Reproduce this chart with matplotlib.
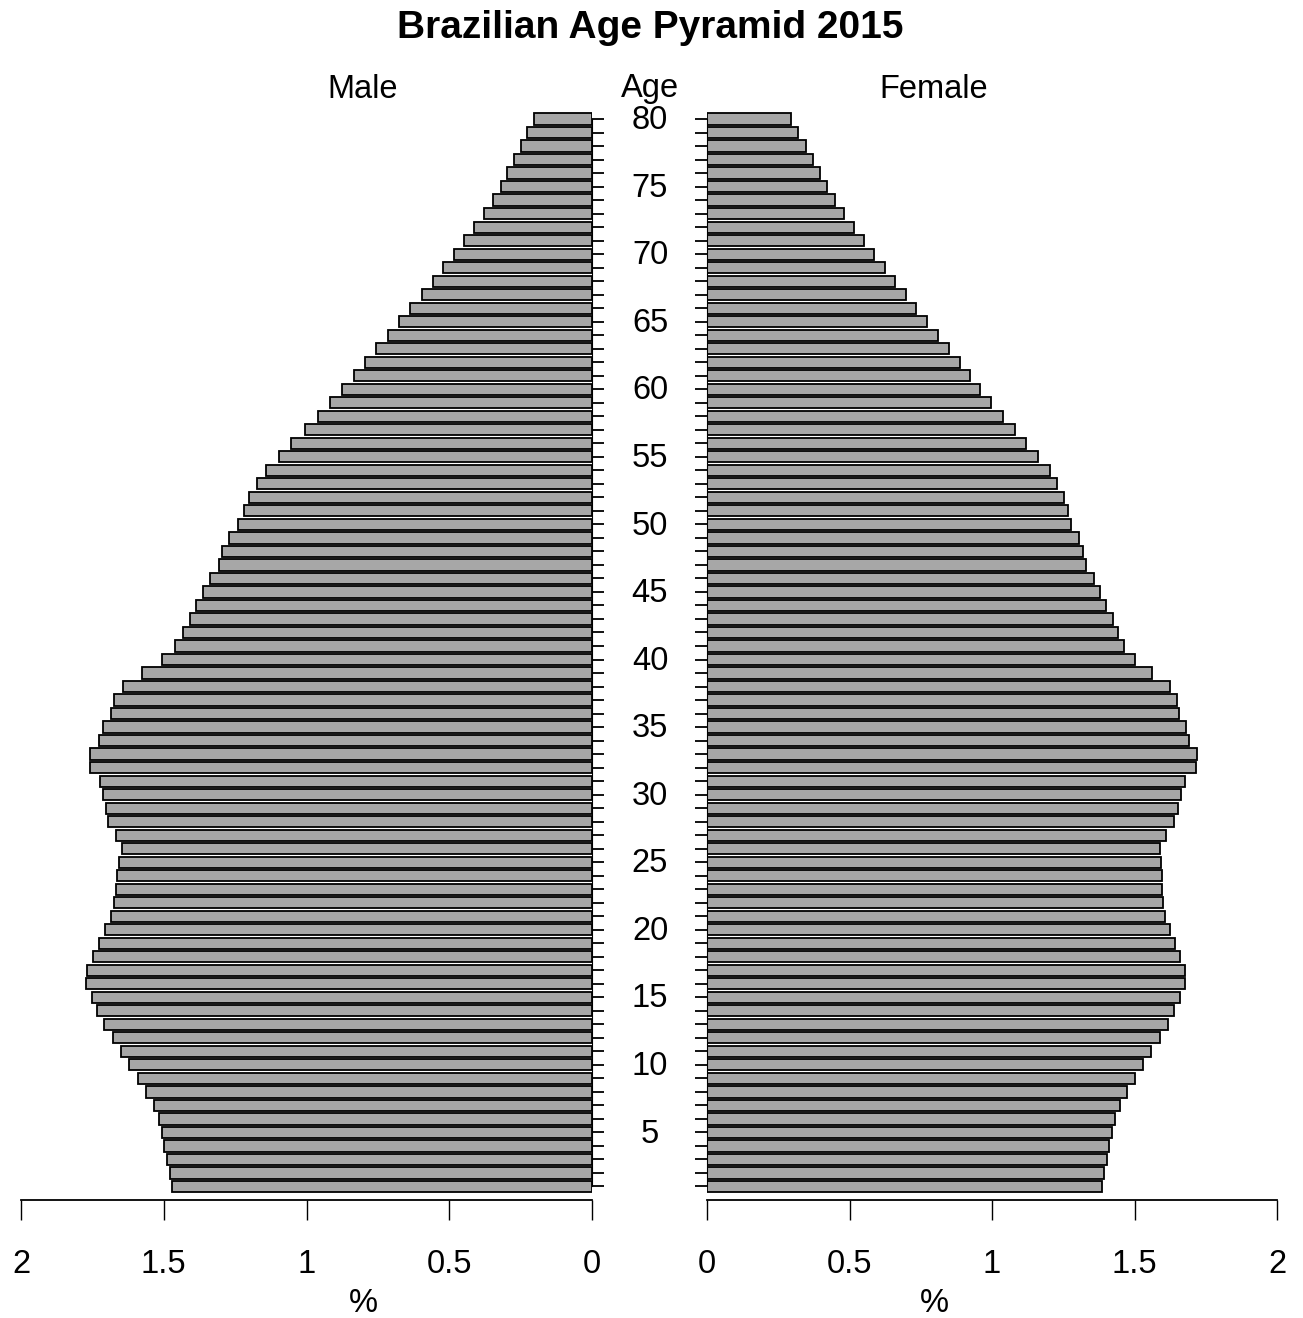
import matplotlib
matplotlib.use("Agg")
import matplotlib.pyplot as plt
from matplotlib.transforms import blended_transform_factory
import numpy as np

plt.rcParams['font.family'] = ['Liberation Sans', 'DejaVu Sans']

# Ages 1..80 (index 0 = age 1)
ages = list(range(1, 81))

# Male percentages, age 80 down to age 1
male_desc = [0.202, 0.226, 0.249, 0.273, 0.296, 0.320, 0.348, 0.380, 0.414, 0.449,
             0.485, 0.522, 0.558, 0.597, 0.636, 0.676, 0.715, 0.755, 0.795, 0.834,
             0.875, 0.917, 0.961, 1.007, 1.053, 1.097, 1.141, 1.172, 1.201, 1.220,
             1.240, 1.271, 1.296, 1.307, 1.339, 1.363, 1.386, 1.409, 1.434, 1.460,
             1.507, 1.575, 1.644, 1.675, 1.684, 1.712, 1.727, 1.760, 1.760, 1.723,
             1.712, 1.704, 1.695, 1.666, 1.647, 1.657, 1.662, 1.668, 1.673, 1.684,
             1.706, 1.727, 1.748, 1.769, 1.771, 1.753, 1.733, 1.708, 1.679, 1.650,
             1.620, 1.591, 1.562, 1.533, 1.515, 1.507, 1.499, 1.488, 1.478, 1.472]

# Female percentages, age 80 down to age 1
female_desc = [0.296, 0.321, 0.347, 0.372, 0.396, 0.421, 0.450, 0.480, 0.515, 0.551,
               0.587, 0.623, 0.660, 0.698, 0.735, 0.772, 0.811, 0.848, 0.886, 0.922,
               0.959, 0.998, 1.038, 1.080, 1.121, 1.163, 1.203, 1.229, 1.253, 1.266,
               1.278, 1.305, 1.320, 1.331, 1.358, 1.379, 1.401, 1.423, 1.442, 1.462,
               1.502, 1.561, 1.624, 1.648, 1.655, 1.679, 1.691, 1.720, 1.715, 1.676,
               1.662, 1.651, 1.640, 1.610, 1.589, 1.593, 1.596, 1.597, 1.599, 1.608,
               1.626, 1.643, 1.661, 1.676, 1.676, 1.661, 1.637, 1.617, 1.588, 1.558,
               1.531, 1.503, 1.475, 1.448, 1.431, 1.421, 1.412, 1.402, 1.392, 1.385]

male = male_desc[::-1]
female = female_desc[::-1]

x_ticks = [0, 0.5, 1, 1.5, 2]
x_labels = ["0", "0.5", "1", "1.5", "2"]
age_labels = list(range(5, 81, 5))

title = "Brazilian Age Pyramid 2015"

W, H = 1303, 1318
fig = plt.figure(figsize=(W / 100, H / 100), dpi=100)

bottom = 118 / H
height = (1200 - 105.5) / H
axL = fig.add_axes([21 / W, bottom, 571 / W, height])
axR = fig.add_axes([707 / W, bottom, 570 / W, height])

FS = 23.5
bar_kw = dict(height=0.83, color='#a7a7a7', edgecolor='black', linewidth=1.3)

axL.barh(ages, male, **bar_kw)
axR.barh(ages, female, **bar_kw)

for ax in (axL, axR):
    ax.set_ylim(0, 81)
    ax.spines['top'].set_visible(False)
    ax.spines['bottom'].set_bounds(0, 2)
    ax.spines['bottom'].set_linewidth(1.3)
    ax.set_xticks(x_ticks)
    ax.set_xticklabels(x_labels, fontsize=FS)
    ax.tick_params(axis='x', length=14.5, width=1.0, pad=21, direction='out')
    ax.set_yticks(ages)
    ax.set_yticklabels([])
    ax.tick_params(axis='y', length=8.5, width=1.3, direction='out')

axL.set_xlim(2, 0)
axL.spines['left'].set_visible(False)
axL.spines['right'].set_bounds(1, 80)
axL.yaxis.tick_right()

axR.set_xlim(0, 2)
axR.spines['right'].set_visible(False)
axR.spines['left'].set_bounds(1, 80)
axR.yaxis.tick_left()

# Age labels in the middle
tr = blended_transform_factory(fig.transFigure, axR.transData)
for a in age_labels:
    fig.text(650 / W, a - 0.12, str(a), transform=tr, ha='center', va='center', fontsize=FS)

fig.text(650 / W, 1 - 28 / H, title, ha='center', va='center', fontsize=28, fontweight='bold')
fig.text(363 / W, 1 - 89 / H, "Male", ha='center', va='center', fontsize=FS)
fig.text(650 / W, 1 - 89 / H, "Age", ha='center', va='center', fontsize=FS)
fig.text(934 / W, 1 - 89 / H, "Female", ha='center', va='center', fontsize=FS)
fig.text(363 / W, 1 - 1304 / H, "%", ha='center', va='center', fontsize=FS)
fig.text(934 / W, 1 - 1304 / H, "%", ha='center', va='center', fontsize=FS)

fig.savefig("out.png", dpi=100)
